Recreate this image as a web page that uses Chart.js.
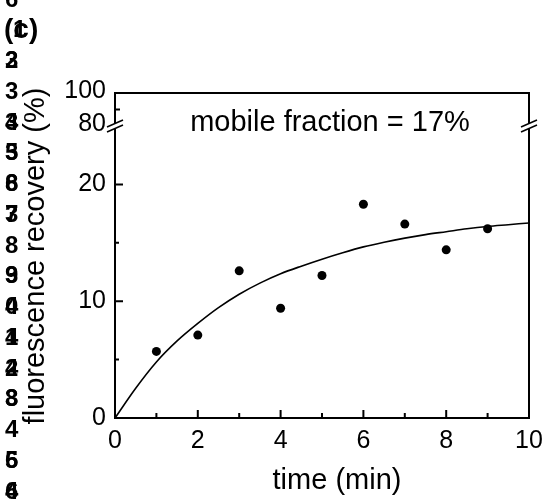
<!DOCTYPE html>
<html>
<head>
<meta charset="utf-8">
<script src="https://cdn.jsdelivr.net/npm/chart.js@4.4.1/dist/chart.umd.min.js"></script>
<style>
  html, body { margin: 0; padding: 0; background: #fff; }
  #wrap { position: relative; width: 544px; height: 501px; }
</style>
</head>
<body>
<div id="wrap"><canvas id="chart"></canvas></div>
<script>
/* FRAP recovery, panel (c) */

// ---------- Data --------------------------------------------------------
const timeMin = [1, 2, 3, 4, 5, 6, 7, 8, 9];
const recovery = [5.7, 7.1, 12.6, 9.4, 12.2, 18.3, 16.6, 14.4, 16.2];

// fitted recovery curve, every half minute
const fitTime = [0, 0.5, 1, 1.5, 2, 2.5, 3, 3.5, 4, 4.5, 5, 5.5, 6, 6.5, 7, 7.5, 8, 8.5, 9, 9.5, 10];
const fitRecovery = [0, 2.55, 4.8, 6.6, 8.1, 9.45, 10.6, 11.55, 12.35, 13.0, 13.6, 14.15, 14.65, 15.05, 15.4, 15.7, 15.95, 16.2, 16.4, 16.55, 16.7];

const xTicks = [0, 2, 4, 6, 8, 10];
const xMinor = [1, 3, 5, 7, 9];
const yLowTicks = [0, 10, 20];
const yLowMinor = [5, 15];
const yHighTicks = [80, 100];
const yHighMinor = [90];

const annotation = "mobile fraction = 17%";
const xTitle = "time (min)";
const yTitle = "fluorescence recovery (%)";
const panelLabel = "(c)";

// stray line numbers down the left margin (two layers printed on top of each other)
const marginDigits  = ["6", "1", "2", "3", "4", "5", "6", "7", "8", "9", "0", "1", "2", "3", "4", "5", "6"];
const marginOverlay = ["",  "",  "3", "",  "3", "3", "8", "3", "",  "3", "4", "4", "4", "8", "",  "6", "4"];

const FONT = "'Liberation Sans', Arial, sans-serif";
const INK = "#000";

// ---------- Helpers -----------------------------------------------------
function fixTicks(values) {
  return scale => { scale.ticks = values.map(v => ({ value: v })); };
}
function noPad(scale) {
  scale.paddingLeft = scale.paddingRight = scale.paddingTop = scale.paddingBottom = 0;
}

// frame, inward ticks, axis break, free text
const decorations = {
  id: "decorations",
  afterDraw(chart) {
    const { ctx, chartArea: a, scales: { x, y, y2 } } = chart;
    const yb = y.top;   // where the two y segments meet
    ctx.save();
    ctx.strokeStyle = INK;
    ctx.fillStyle = INK;
    ctx.lineWidth = 2;

    // ticks pointing into the plot
    ctx.beginPath();
    xTicks.forEach(v => { const px = x.getPixelForValue(v); ctx.moveTo(px, a.bottom); ctx.lineTo(px, a.bottom - 8); });
    xMinor.forEach(v => { const px = x.getPixelForValue(v); ctx.moveTo(px, a.bottom); ctx.lineTo(px, a.bottom - 5); });
    yLowTicks.forEach(v => { const py = y.getPixelForValue(v); ctx.moveTo(a.left, py); ctx.lineTo(a.left + 8, py); });
    yLowMinor.forEach(v => { const py = y.getPixelForValue(v); ctx.moveTo(a.left, py); ctx.lineTo(a.left + 4, py); });
    yHighMinor.forEach(v => { const py = y2.getPixelForValue(v); ctx.moveTo(a.left, py); ctx.lineTo(a.left + 5, py); });
    ctx.stroke();

    // box with a gap at the break on both sides
    ctx.beginPath();
    ctx.moveTo(a.left, yb + 2.5);
    ctx.lineTo(a.left, a.bottom);
    ctx.lineTo(a.right, a.bottom);
    ctx.lineTo(a.right, yb + 2.5);
    ctx.moveTo(a.right, yb - 2.5);
    ctx.lineTo(a.right, a.top);
    ctx.lineTo(a.left, a.top);
    ctx.lineTo(a.left, yb - 2.5);
    ctx.stroke();

    // break marks  //
    ctx.lineWidth = 1.5;
    [a.left, a.right].forEach(bx => {
      [-2.5, 2.5].forEach(dy => {
        ctx.beginPath();
        ctx.moveTo(bx - 8, yb + dy + 3.5);
        ctx.lineTo(bx + 8, yb + dy - 3.5);
        ctx.stroke();
      });
    });

    // annotation and axis titles
    ctx.font = `29px ${FONT}`;
    ctx.textAlign = "center";
    ctx.textBaseline = "alphabetic";
    ctx.fillText(annotation, 330, 131);
    ctx.fillText(xTitle, 337, 489);

    ctx.save();
    ctx.translate(44, 256);
    ctx.rotate(-Math.PI / 2);
    ctx.fillText(yTitle, 0, 0);
    ctx.restore();

    // left margin clutter
    ctx.textAlign = "left";
    ctx.textBaseline = "middle";
    const digitFont = `bold 24px ${FONT}`;
    ctx.font = digitFont;
    marginDigits.forEach((d, i) => {
      const ty = i * 30.75;
      if (i === 1) {
        ctx.font = `bold 28px ${FONT}`;
        ctx.fillText(panelLabel, 4, ty);
        ctx.font = digitFont;
        ctx.fillText(d, 13, ty);
        return;
      }
      ctx.fillText(d, 5, ty);
      if (marginOverlay[i]) ctx.fillText(marginOverlay[i], 5, ty);
    });
    ctx.restore();
  },
};

// ---------- Chart -------------------------------------------------------
const tickFont = { family: FONT, size: 25 };

new Chart(document.getElementById("chart"), {
  type: "scatter",
  data: {
    datasets: [
      {
        label: "fit",
        data: fitTime.map((t, i) => ({ x: t, y: fitRecovery[i] })),
        showLine: true,
        borderColor: INK,
        borderWidth: 1.6,
        pointRadius: 0,
        cubicInterpolationMode: "monotone",
        yAxisID: "y",
      },
      {
        label: "recovery",
        data: timeMin.map((t, i) => ({ x: t, y: recovery[i] })),
        backgroundColor: INK,
        borderColor: INK,
        pointRadius: 4.5,
        borderWidth: 0,
        yAxisID: "y",
      },
    ],
  },
  options: {
    responsive: true,
    maintainAspectRatio: false,
    animation: false,
    events: [],
    layout: { autoPadding: false, padding: { top: 93, right: 15, bottom: 0, left: 0 } },
    plugins: { legend: { display: false }, tooltip: { enabled: false } },
    scales: {
      x: {
        type: "linear",
        min: 0,
        max: 10,
        afterBuildTicks: fixTicks(xTicks),
        grid: { display: false, drawTicks: false },
        border: { display: false },
        ticks: { color: INK, font: tickFont, padding: 8, maxRotation: 0, autoSkip: false },
        afterFit: s => { s.height = 83; noPad(s); },
      },
      y: {
        type: "linear",
        position: "left",
        stack: "left",
        stackWeight: 292,
        min: 0,
        max: 25,
        afterBuildTicks: fixTicks(yLowTicks),
        grid: { display: false, drawTicks: false },
        border: { display: false },
        ticks: { color: INK, font: tickFont, padding: 9, autoSkip: false },
        afterFit: s => { s.width = 115; noPad(s); },
      },
      y2: {
        type: "linear",
        position: "left",
        stack: "left",
        stackWeight: 33,
        min: 80,
        max: 100,
        afterBuildTicks: fixTicks(yHighTicks),
        grid: { display: false, drawTicks: false },
        border: { display: false },
        ticks: { color: INK, font: tickFont, padding: 9, labelOffset: -2, autoSkip: false },
        afterFit: s => { s.width = 115; noPad(s); },
      },
    },
  },
  plugins: [decorations],
});
</script>
</body>
</html>
